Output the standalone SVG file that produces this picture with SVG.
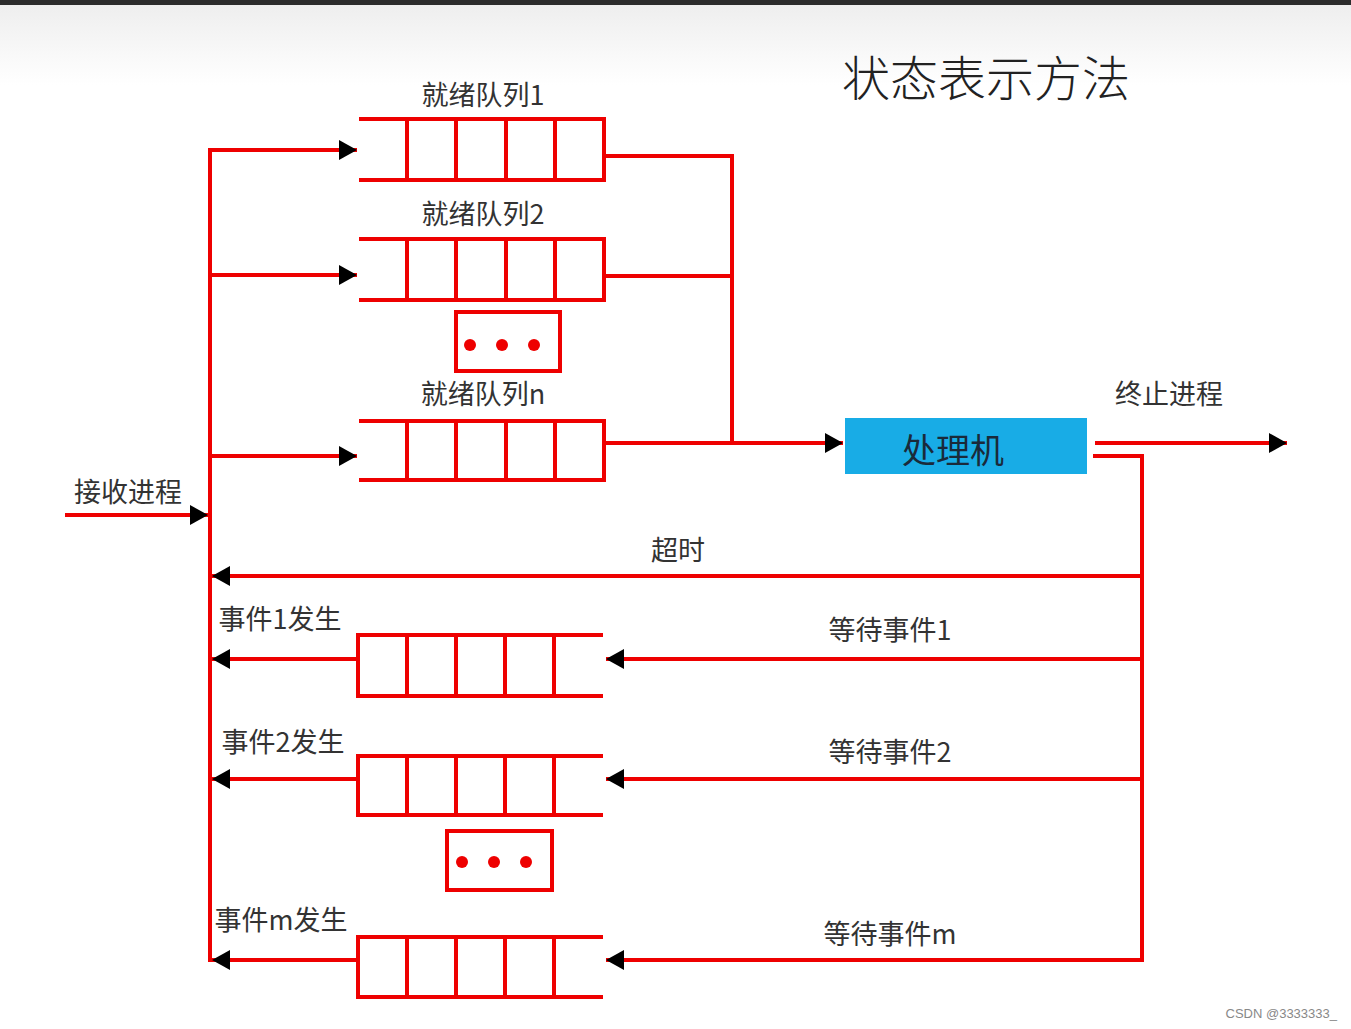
<svg xmlns="http://www.w3.org/2000/svg" width="1351" height="1029" viewBox="0 0 1351 1029">
<defs>
<linearGradient id="topfade" x1="0" y1="0" x2="0" y2="1">
<stop offset="0" stop-color="#eeeeee"/>
<stop offset="1" stop-color="#ffffff"/>
</linearGradient>
<marker id="arr" markerUnits="userSpaceOnUse" markerWidth="20" markerHeight="22" refX="18" refY="11" orient="auto">
<path d="M0,1 L18,11 L0,21 z" fill="#000"/>
</marker>
<style>
.ln{fill:none;stroke:#ee0000;stroke-width:4;stroke-linecap:square;stroke-linejoin:miter}
.ar{fill:none;stroke:#ee0000;stroke-width:4;marker-end:url(#arr)}
.q{fill:none;stroke:#ee0000;stroke-width:4;stroke-linecap:square}
.dot{fill:#ee0000}
.lbl{font-family:"Noto Sans CJK SC","Noto Sans",sans-serif;font-size:27px;fill:#333;text-anchor:middle;dominant-baseline:central}
.title{font-family:"Noto Sans CJK SC","Noto Sans",sans-serif;font-size:48px;font-weight:300;fill:#222;text-anchor:middle;dominant-baseline:central}
</style>
</defs>
<rect x="0" y="0" width="1351" height="1029" fill="#ffffff"/>
<rect x="0" y="5" width="1351" height="80" fill="url(#topfade)"/>
<rect x="0" y="0" width="1351" height="5" fill="#2b2b2b"/>

<text class="title" x="986" y="75">状态表示方法</text>

<g id="ready1">
<path class="q" d="M361,119 H604 V180 H361 M407,119 V180 M456,119 V180 M506,119 V180 M555,119 V180"/>
<text class="lbl" x="483" y="93">就绪队列1</text>
</g>
<g id="ready2">
<path class="q" d="M361,239 H604 V300 H361 M407,239 V300 M456,239 V300 M506,239 V300 M555,239 V300"/>
<text class="lbl" x="483" y="212">就绪队列2</text>
</g>
<g id="ready-dots">
<rect class="q" x="456" y="312" width="104" height="59"/>
<circle class="dot" cx="470" cy="345" r="6"/>
<circle class="dot" cx="502" cy="345" r="6"/>
<circle class="dot" cx="534" cy="345" r="6"/>
</g>
<g id="readyn">
<path class="q" d="M361,421 H604 V480 H361 M407,421 V480 M456,421 V480 M506,421 V480 M555,421 V480"/>
<text class="lbl" x="483" y="392">就绪队列n</text>
</g>

<g id="processor">
<rect x="845" y="418" width="242" height="56" fill="#18ace6"/>
<text class="lbl" x="953" y="448" style="font-size:34px;fill:#1a2a3a">处理机</text>
</g>

<g id="wait1">
<path class="q" d="M601,635 H358 V696 H601 M407,635 V696 M456,635 V696 M505,635 V696 M554,635 V696"/>
</g>
<g id="wait2">
<path class="q" d="M601,756 H358 V815 H601 M407,756 V815 M456,756 V815 M505,756 V815 M554,756 V815"/>
</g>
<g id="wait-dots">
<rect class="q" x="447" y="831" width="105" height="59"/>
<circle class="dot" cx="462" cy="862" r="6"/>
<circle class="dot" cx="494" cy="862" r="6"/>
<circle class="dot" cx="526" cy="862" r="6"/>
</g>
<g id="waitm">
<path class="q" d="M601,937 H358 V997 H601 M407,937 V997 M456,937 V997 M505,937 V997 M554,937 V997"/>
</g>

<g id="labels">
<text class="lbl" x="128" y="490">接收进程</text>
<text class="lbl" x="678" y="548">超时</text>
<text class="lbl" x="280" y="617">事件1发生</text>
<text class="lbl" x="890" y="628">等待事件1</text>
<text class="lbl" x="283" y="740">事件2发生</text>
<text class="lbl" x="890" y="750">等待事件2</text>
<text class="lbl" x="281" y="918">事件m发生</text>
<text class="lbl" x="890" y="932">等待事件m</text>
<text class="lbl" x="1169" y="392">终止进程</text>
</g>

<g id="connectors">
<!-- left bus -->
<path class="ln" d="M210,150 V960"/>
<path class="ar" d="M65,515 H208"/>
<path class="ar" d="M210,150 H357"/>
<path class="ar" d="M210,275 H357"/>
<path class="ar" d="M210,456 H357"/>
<!-- ready queues to processor -->
<path class="ln" d="M604,156 H732 V443"/>
<path class="ln" d="M604,276 H732"/>
<path class="ln" d="M604,443 H732"/>
<path class="ar" d="M732,443 H843"/>
<!-- exit -->
<path class="ar" d="M1095,443 H1287"/>
<!-- right bus -->
<path class="ln" d="M1095,456 H1142 V960"/>
<path class="ar" d="M1142,576 H212"/>
<path class="ar" d="M1142,659 H606"/>
<path class="ar" d="M1142,779 H606"/>
<path class="ar" d="M1142,960 H606"/>
<path class="ar" d="M358,659 H212"/>
<path class="ar" d="M358,779 H212"/>
<path class="ar" d="M358,960 H212"/>
</g>

<text x="1337" y="1013" style="font-family:'Liberation Sans',sans-serif;font-size:13px;fill:#888;text-anchor:end;dominant-baseline:central">CSDN @3333333_</text>
</svg>
